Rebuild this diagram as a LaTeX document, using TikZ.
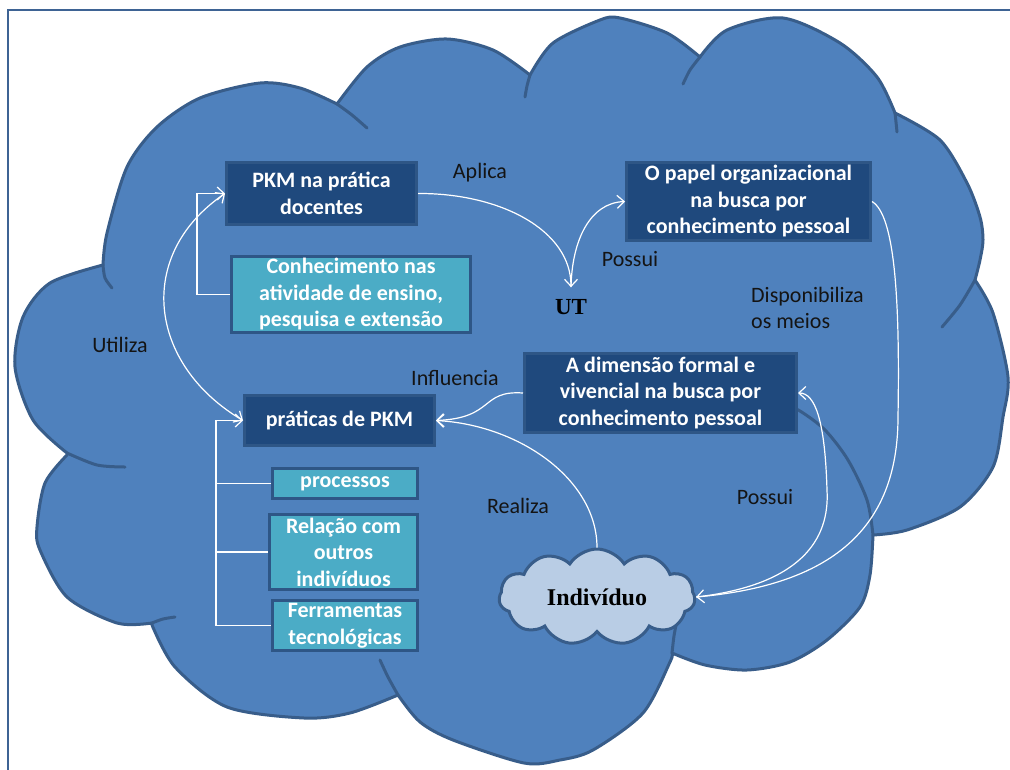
\documentclass[tikz,border=0pt]{standalone}
\usepackage{fontspec}
\setmainfont{Carlito}
\newfontfamily\tnrfont{Liberation Serif}
\usetikzlibrary{arrows.meta,shapes.symbols}

\definecolor{cloudfill}{HTML}{4F81BD}
\definecolor{cloudline}{HTML}{385D8A}
\definecolor{navy}{HTML}{1F497D}
\definecolor{teal}{HTML}{4BACC6}
\definecolor{boxline}{HTML}{2E5686}
\definecolor{puff}{HTML}{B9CDE5}
\definecolor{frameline}{HTML}{3E6394}
\definecolor{labelink}{HTML}{141414}

\newcommand\bxfont{\fontsize{22}{26.5}\selectfont\bfseries}
\newcommand\lbfont{\fontsize{22}{26}\selectfont}

\tikzset{
  bubble/.style={fill=cloudfill, draw=cloudline, line width=3pt, line join=round},
  crease/.style={draw=cloudline, line width=3pt, line cap=round},
  darkbox/.style={fill=navy, draw=boxline, line width=3pt, text=white,
    font=\bxfont, align=center, inner sep=0pt},
  tealbox/.style={fill=teal, draw=boxline, line width=3pt, text=white,
    font=\bxfont, align=center, inner sep=0pt},
  lbl/.style={text=labelink, font=\lbfont, inner sep=0pt, align=left},
  link/.style={draw=white, line width=1.2pt,
    -{Straight Barb[length=7pt,width=13pt]}},
  tree/.style={draw=white, line width=1.2pt},
}

\begin{document}
\begin{tikzpicture}[x=1pt,y=-1pt]
\useasboundingbox (0,0) rectangle (1010,769);
\clip (0,0) rectangle (1010,769);
\fill[white] (0,0) rectangle (1010,769);

% slide frame
\draw[frameline, line width=2pt] (8,10) rectangle (1040,800);

% large cloud: one lobe after another, clockwise from the upper left
\path[bubble] (103,265)
  -- plot[smooth] coordinates {(103,265) (107,233) (127,167) (157,127) (200,98) (260,83) (300,88) (337,104)}
  -- plot[smooth] coordinates {(337,104) (367,67) (400,47) (447,39) (493,50) (530,75)}
  -- plot[smooth] coordinates {(530,75) (553,43) (600,20) (620,18) (667,33) (700,57)}
  -- plot[smooth] coordinates {(700,57) (727,30) (783,18) (840,43) (877,77) (895,113)}
  -- plot[smooth] coordinates {(895,113) (940,140) (967,183) (980,217) (983,240) (980,260) (975,280)}
  -- plot[smooth] coordinates {(975,280) (993,313) (1008,377) (1003,417) (993,467) (960,507) (907,530) (873,535)}
  -- plot[smooth] coordinates {(873,535) (870,575) (860,607) (827,640) (790,662) (747,670) (705,665) (672,653)}
  -- plot[smooth] coordinates {(672,653) (670,662) (643,713) (593,750) (560,760) (524,763) (453,740) (420,722) (398,695)}
  -- plot[smooth] coordinates {(398,695) (350,713) (304,718) (227,707) (175,667) (152,625)}
  -- plot[smooth] coordinates {(152,623) (117,623) (67,597) (40,550) (37,527) (45,483) (67,455)}
  -- plot[smooth] coordinates {(67,453) (33,420) (15,367) (23,317) (50,283) (103,265)}
  -- cycle;

% creases where the lobes overlap
\draw[crease] plot[smooth] coordinates {(103,265) (105,278) (112,288)};
\draw[crease] plot[smooth] coordinates {(337,104) (352,115) (367,128)};
\draw[crease] plot[smooth] coordinates {(530,75) (527,86) (525,97)};
\draw[crease] plot[smooth] coordinates {(700,57) (690,70) (683,84)};
\draw[crease] plot[smooth] coordinates {(895,113) (896,122) (897,132)};
\draw[crease] plot[smooth] coordinates {(975,280) (960,305) (942,327)};
\draw[crease] plot[smooth] coordinates {(873,535) (867,500) (848,460) (825,430) (800,411) (780,402)};
\draw[crease] plot[smooth] coordinates {(672,653) (674,636) (677,620)};
\draw[crease] plot[smooth] coordinates {(398,695) (388,677) (380,660)};
\draw[crease] plot[smooth] coordinates {(152,623) (163,619) (175,617)};
\draw[crease] plot[smooth] coordinates {(67,453) (97,465) (125,467)};

% concept boxes
\node[darkbox, minimum width=190, minimum height=62] (b1) at (321.5,193.5) {PKM na prática\\docentes};
\node[tealbox, minimum width=239, minimum height=76] (b2) at (351,294.5) {Conhecimento nas\\atividade de ensino,\\pesquisa e extensão};
\node[darkbox, minimum width=244, minimum height=78] (b3) at (748.5,201.5) {O papel organizacional\\na busca por\\conhecimento pessoal};
\node[darkbox, minimum width=272, minimum height=79] (b4) at (660.5,393) {A dimensão formal e\\vivencial na busca por\\conhecimento pessoal};
\node[darkbox, minimum width=190, minimum height=50] (b5) at (339.5,420.5) {práticas de PKM};
\node[tealbox, minimum width=145, minimum height=30] (b6) at (345,483.5) {processos};
\node[tealbox, minimum width=148, minimum height=75] (b7) at (343.5,552) {Relação com\\outros\\indivíduos};
\node[tealbox, minimum width=145, minimum height=50] (b8) at (345,625.5) {Ferramentas\\tecnológicas};

\node[text=black, font=\tnrfont\bfseries\fontsize{23}{26}\selectfont, inner xsep=0pt, inner ysep=12pt] (ut) at (571,307) {UT};

\node[cloud, cloud puffs=11, cloud puff arc=115, cloud ignores aspect,
  minimum width=196, minimum height=96, fill=puff, draw=cloudline, line width=3pt,
  font=\tnrfont\bfseries\fontsize{24}{28}\selectfont, text=black, inner sep=0pt]
  (indiv) at (597,597) {Indivíduo};

% connector labels
\node[lbl] (l-aplica) at (480,173) {Aplica};
\node[lbl] (l-possui1) at (630,259) {Possui};
\node[lbl, anchor=west] (l-disp) at (751,308) {Disponibiliza\\os meios};
\node[lbl] (l-utiliza) at (120,345) {Utiliza};
\node[lbl] (l-influ) at (455,378) {Influencia};
\node[lbl] (l-realiza) at (518,506) {Realiza};
\node[lbl] (l-possui2) at (765,497) {Possui};

% bracket trees
\draw[tree] (b2.west) -- (197,294.5) coordinate (k2);
\draw[link] (k2) |- (b1.west);
\draw[tree] (b8.west) -- (216,625.5) coordinate (k8);
\draw[link] (k8) |- (b5.west);
\draw[tree] (b6.west) -- (b6.west -| k8);
\draw[tree] (b7.west) -- (b7.west -| k8);

% curved relations
\draw[link, {Straight Barb[length=7pt,width=13pt]}-{Straight Barb[length=7pt,width=13pt]}]
  (b1.west) .. controls (135,255) and (148,364) .. (b5.west);
\draw[link] (b1.east) .. controls (500,193) and (571,230) .. (ut.north);
\draw[link] (ut.north) .. controls (572,240) and (590,203) .. (b3.west);
\draw[link] (b3.east) .. controls (895,215) and (900,300) .. (898,417)
  .. controls (898,530) and (830,585) .. (indiv.east);
\draw[link] (indiv.east) .. controls (800,585) and (830,540) .. (827,490)
  .. controls (825,420) and (815,393) .. (b4.east);
\draw[link] (b4.west) .. controls (480,390) and (495,418) .. (b5.east);
\draw[link] (indiv.north) .. controls (597,480) and (520,425) .. (b5.east);
\end{tikzpicture}
\end{document}
